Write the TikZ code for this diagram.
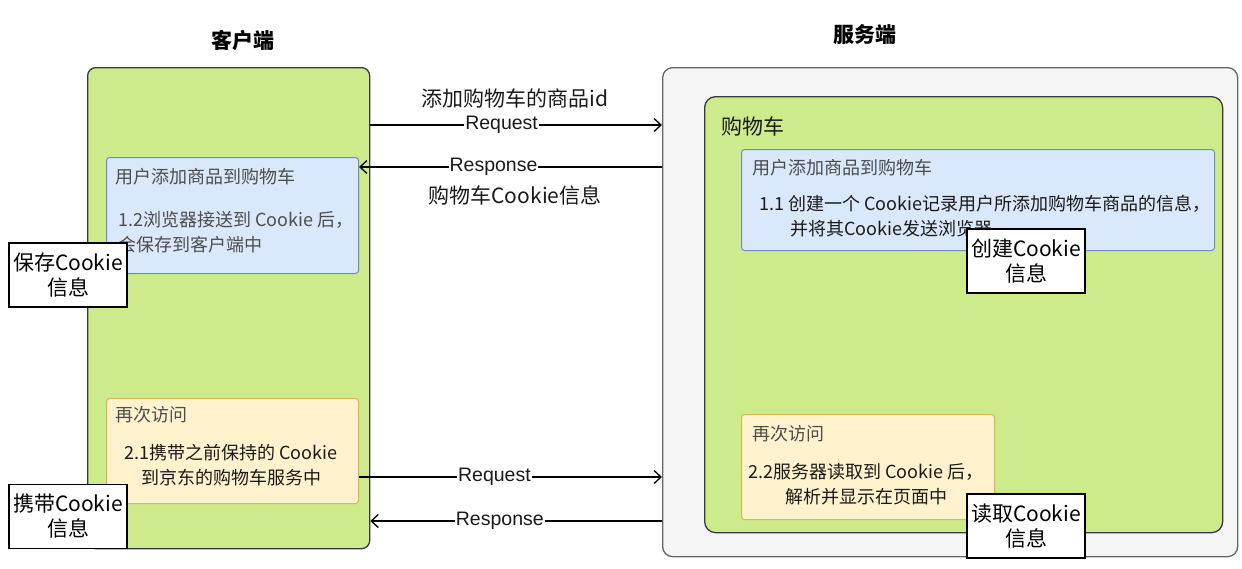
\documentclass[tikz,border=0pt]{standalone}
\usepackage{fontspec}
\setmainfont{Noto Sans CJK SC}
\newfontfamily\arialike{Liberation Sans}
\usetikzlibrary{arrows.meta}
\definecolor{leaf}{HTML}{CDEB8B}
\definecolor{leafline}{HTML}{36393D}
\definecolor{shellfill}{HTML}{F5F5F5}
\definecolor{shellline}{HTML}{666666}
\definecolor{skyfill}{HTML}{DAE8FC}
\definecolor{skyline}{HTML}{6C8EBF}
\definecolor{creamfill}{HTML}{FFF2CC}
\definecolor{creamline}{HTML}{D6B656}
\definecolor{softink}{HTML}{4D4D4D}
\definecolor{ink}{HTML}{1A1A1A}
\newcommand\setfs[2]{\fontsize{#1}{#2}\selectfont}
\begin{document}
\begin{tikzpicture}[x=1pt,y=-1pt,
  panel/.style={draw=leafline, fill=leaf, line width=1.3pt, rounded corners=8pt, anchor=north west, inner sep=0pt},
  shell/.style={draw=shellline, fill=shellfill, line width=1.3pt, rounded corners=10pt, anchor=north west, inner sep=0pt},
  skybox/.style={draw=skyline, fill=skyfill, line width=1pt, rounded corners=3pt, anchor=north west, inner sep=0pt},
  creambox/.style={draw=creamline, fill=creamfill, line width=1pt, rounded corners=3pt, anchor=north west, inner sep=0pt},
  title/.style={font=\setfs{21}{25}\bfseries, text=black, inner sep=0pt},
  bigtext/.style={font=\setfs{21}{25}, text=ink, inner sep=0pt},
  subhead/.style={font=\setfs{18}{22}, text=softink, anchor=west, inner sep=0pt},
  body/.style={font=\setfs{18}{25}, text=ink, inner sep=0pt},
  tag/.style={draw=black, fill=white, line width=1.3pt, minimum width=118pt, minimum height=64pt, align=center, inner sep=0pt, font=\setfs{21}{25}, text=black},
  conn/.style={line width=1.3pt, draw=black, -{Straight Barb[length=7pt,width=13pt]}},
  elabel/.style={fill=white, inner sep=1pt, font=\arialike\setfs{19.5}{22}, text=ink}]
\useasboundingbox (0,0) rectangle (1242,568);

% containers
\node[panel, minimum width=282pt, minimum height=481pt] (client) at (87,67) {};
\node[shell, minimum width=575pt, minimum height=489pt] (server) at (662,67) {};
\node[panel, rounded corners=11pt, minimum width=518pt, minimum height=436pt] (cart) at (704,96) {};

% inner step boxes
\node[skybox, minimum width=252pt, minimum height=116pt] (cadd) at (106,157) {};
\node[creambox, minimum width=252pt, minimum height=105pt] (cagain) at (106,398) {};
\node[skybox, minimum width=473pt, minimum height=101pt] (sadd) at (741,149) {};
\node[creambox, minimum width=253pt, minimum height=105pt] (sagain) at (741,414) {};

% titles
\node[title] (ctitle) at (243,40) {客户端};
\node[title] (stitle) at (865,35) {服务端};
\node[bigtext, anchor=west] (carthead) at (721,126) {购物车};

% client texts
\node[subhead] (caddhead) at (115,177) {用户添加商品到购物车};
\node[body, text=softink, align=left, anchor=west] (caddbody) at (118,232.5) {1.2浏览器接送到 Cookie 后，\\会保存到客户端中};
\node[subhead] (cagainhead) at (115,415) {再次访问};
\node[body, align=center] (cagainbody) at (231,465) {2.1携带之前保持的 Cookie\\到京东的购物车服务中};

% server texts
\node[subhead] (saddhead) at (752,168) {用户添加商品到购物车};
\node[body, align=left, anchor=west] (saddbody) at (759,216.5) {1.1 创建一个 Cookie记录用户所添加购物车商品的信息，\\\hspace*{31pt}并将其Cookie发送浏览器};
\node[subhead] (sagainhead) at (752,434) {再次访问};
\node[body, align=center] (sagainbody) at (866,484.5) {2.2服务器读取到 Cookie 后，\\解析并显示在页面中};

% messages
\draw[conn] (client.east |- 0,125) -- (server.west |- 0,125)
  node[elabel, pos=0.45] (req1) {Request};
\node[bigtext] (req1note) at (515,98) {添加购物车的商品id};
\draw[conn] (server.west |- 0,167) -- (cadd.east |- 0,167)
  node[elabel, pos=0.556] (resp1) {Response};
\node[bigtext] (resp1note) at (515,195) {购物车Cookie信息};
\draw[conn] (cagain.east |- 0,477) -- (server.west |- 0,477)
  node[elabel, pos=0.447] (req2) {Request};
\draw[conn] (server.west |- 0,521) -- (client.east |- 0,521)
  node[elabel, pos=0.556] (resp2) {Response};

% cookie tags
\node[tag] (savetag) at (68,275) {保存Cookie\\信息};
\node[tag] (carrytag) at (68,516.5) {携带Cookie\\信息};
\node[tag] (maketag) at (1026,261) {创建Cookie\\信息};
\node[tag] (readtag) at (1026,526) {读取Cookie\\信息};
\end{tikzpicture}
\end{document}
